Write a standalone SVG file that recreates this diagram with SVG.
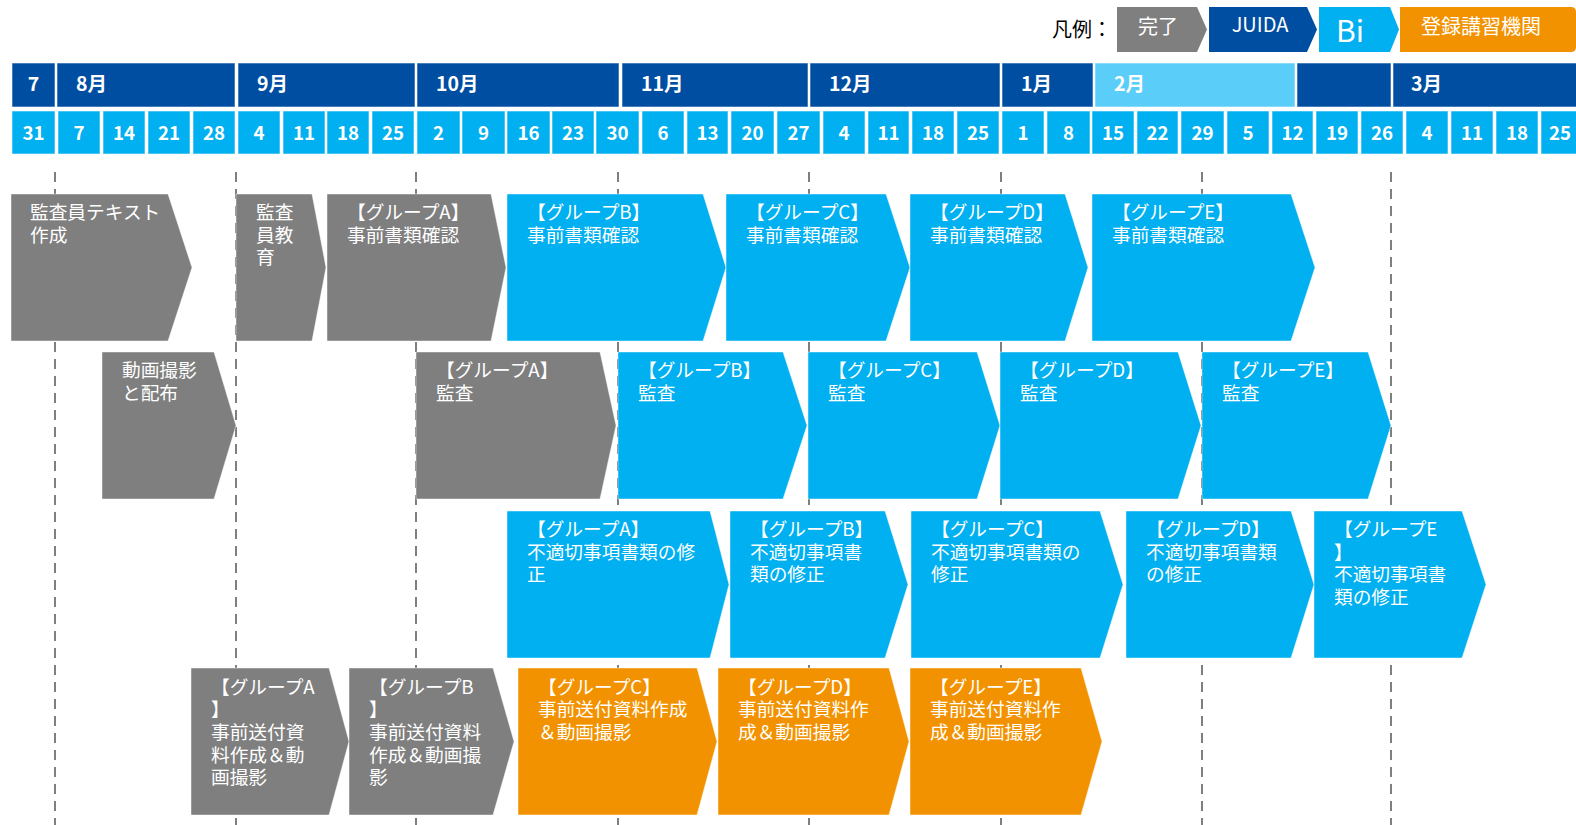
<svg xmlns="http://www.w3.org/2000/svg" width="1576" height="825" viewBox="0 0 1576 825">
<style>
.mo{fill:#004EA2;stroke:#fff;stroke-opacity:.55;stroke-width:1}
.mol{fill:#5BCDF9;stroke:#fff;stroke-opacity:.55;stroke-width:1}
.dy{fill:#00B0F0;stroke:#fff;stroke-opacity:.55;stroke-width:1}
.ht{font-family:"Noto Sans CJK JP","DejaVu Sans",sans-serif;font-weight:700;fill:#fff;font-size:19.5px}
.dt{font-family:"Noto Sans CJK JP","DejaVu Sans",sans-serif;font-weight:700;fill:#fff;font-size:18.7px;text-anchor:middle}
.g{fill:#7F7F7F;stroke:#fff;stroke-opacity:.45;stroke-width:1}
.b{fill:#00B0F0;stroke:#fff;stroke-opacity:.45;stroke-width:1}
.o{fill:#F39200;stroke:#fff;stroke-opacity:.45;stroke-width:1}
.t{font-family:"Noto Sans CJK JP","Noto Sans",sans-serif;fill:#fff;font-size:18.7px}
.lt{font-family:"Noto Sans CJK JP","Noto Sans",sans-serif;fill:#fff;font-size:20px;text-anchor:middle}
.guide{stroke:#7F7F7F;stroke-width:2;stroke-dasharray:10 7;fill:none}
</style>
<rect width="1576" height="825" fill="#fff"/>

<g id="legend">
<text x="1052" y="37" font-family="'Noto Sans CJK JP',sans-serif" font-size="20" fill="#000">凡例：</text>
<polygon points="1117,7 1197,7 1207,29.5 1197,52 1117,52" fill="#7F7F7F"/>
<text class="lt" x="1158" y="34">完了</text>
<polygon points="1209,7 1307,7 1317,29.5 1307,52 1209,52" fill="#004EA2"/>
<text class="lt" x="1260" y="32">JUIDA</text>
<polygon points="1319,7 1390,7 1399,29.5 1390,52 1319,52" fill="#00B0F0"/>
<text class="lt" x="1350" y="42" style="font-size:30px">Bi</text>
<path d="M1400,7 H1571 Q1576,7 1576,12 V47 Q1576,52 1571,52 H1400 Z" fill="#F39200"/>
<text class="lt" x="1481" y="34">登録講習機関</text>
</g>

<g id="header">
<rect class="mo" x="12" y="63" width="43" height="44"/>
<rect class="mo" x="57" y="63" width="178" height="44"/>
<rect class="mo" x="238" y="63" width="177" height="44"/>
<rect class="mo" x="417" y="63" width="202" height="44"/>
<rect class="mo" x="622" y="63" width="186" height="44"/>
<rect class="mo" x="810" y="63" width="190" height="44"/>
<rect class="mo" x="1002" y="63" width="91" height="44"/>
<rect class="mol" x="1095" y="63" width="200" height="44"/>
<rect class="mo" x="1297" y="63" width="94" height="44"/>
<rect class="mo" x="1393" y="63" width="190" height="44"/>
<text class="ht" x="33.5" y="91" text-anchor="middle">7</text>
<text class="ht" x="76" y="91">8月</text>
<text class="ht" x="257" y="91">9月</text>
<text class="ht" x="436" y="91">10月</text>
<text class="ht" x="641" y="91">11月</text>
<text class="ht" x="829" y="91">12月</text>
<text class="ht" x="1021" y="91">1月</text>
<text class="ht" x="1114" y="91">2月</text>
<text class="ht" x="1411" y="91">3月</text>

<rect class="dy" x="12" y="111" width="43" height="43"/>
<rect class="dy" x="58" y="111" width="42" height="43"/>
<rect class="dy" x="103" y="111" width="42" height="43"/>
<rect class="dy" x="148" y="111" width="42" height="43"/>
<rect class="dy" x="193" y="111" width="42" height="43"/>
<rect class="dy" x="238" y="111" width="42" height="43"/>
<rect class="dy" x="283" y="111" width="42" height="43"/>
<rect class="dy" x="327" y="111" width="42" height="43"/>
<rect class="dy" x="372" y="111" width="42" height="43"/>
<rect class="dy" x="417" y="111" width="43" height="43"/>
<rect class="dy" x="462" y="111" width="43" height="43"/>
<rect class="dy" x="507" y="111" width="43" height="43"/>
<rect class="dy" x="552" y="111" width="42" height="43"/>
<rect class="dy" x="596" y="111" width="43" height="43"/>
<rect class="dy" x="642" y="111" width="42" height="43"/>
<rect class="dy" x="687" y="111" width="41" height="43"/>
<rect class="dy" x="731" y="111" width="43" height="43"/>
<rect class="dy" x="777" y="111" width="43" height="43"/>
<rect class="dy" x="823" y="111" width="42" height="43"/>
<rect class="dy" x="868" y="111" width="41" height="43"/>
<rect class="dy" x="912" y="111" width="42" height="43"/>
<rect class="dy" x="957" y="111" width="42" height="43"/>
<rect class="dy" x="1002" y="111" width="42" height="43"/>
<rect class="dy" x="1047" y="111" width="43" height="43"/>
<rect class="dy" x="1092" y="111" width="42" height="43"/>
<rect class="dy" x="1137" y="111" width="41" height="43"/>
<rect class="dy" x="1181" y="111" width="43" height="43"/>
<rect class="dy" x="1227" y="111" width="42" height="43"/>
<rect class="dy" x="1272" y="111" width="41" height="43"/>
<rect class="dy" x="1316" y="111" width="42" height="43"/>
<rect class="dy" x="1361" y="111" width="42" height="43"/>
<rect class="dy" x="1406" y="111" width="42" height="43"/>
<rect class="dy" x="1451" y="111" width="42" height="43"/>
<rect class="dy" x="1496" y="111" width="42" height="43"/>
<rect class="dy" x="1541" y="111" width="42" height="43"/>
<text class="dt" x="33.5" y="140">31</text>
<text class="dt" x="79" y="140">7</text>
<text class="dt" x="124" y="140">14</text>
<text class="dt" x="169" y="140">21</text>
<text class="dt" x="214" y="140">28</text>
<text class="dt" x="259" y="140">4</text>
<text class="dt" x="304" y="140">11</text>
<text class="dt" x="348" y="140">18</text>
<text class="dt" x="393" y="140">25</text>
<text class="dt" x="438.5" y="140">2</text>
<text class="dt" x="483.5" y="140">9</text>
<text class="dt" x="528.5" y="140">16</text>
<text class="dt" x="573" y="140">23</text>
<text class="dt" x="617.5" y="140">30</text>
<text class="dt" x="663" y="140">6</text>
<text class="dt" x="707.5" y="140">13</text>
<text class="dt" x="752.5" y="140">20</text>
<text class="dt" x="798.5" y="140">27</text>
<text class="dt" x="844" y="140">4</text>
<text class="dt" x="888.5" y="140">11</text>
<text class="dt" x="933" y="140">18</text>
<text class="dt" x="978" y="140">25</text>
<text class="dt" x="1023" y="140">1</text>
<text class="dt" x="1068.5" y="140">8</text>
<text class="dt" x="1113" y="140">15</text>
<text class="dt" x="1157.5" y="140">22</text>
<text class="dt" x="1202.5" y="140">29</text>
<text class="dt" x="1248" y="140">5</text>
<text class="dt" x="1292.5" y="140">12</text>
<text class="dt" x="1337" y="140">19</text>
<text class="dt" x="1382" y="140">26</text>
<text class="dt" x="1427" y="140">4</text>
<text class="dt" x="1472" y="140">11</text>
<text class="dt" x="1517" y="140">18</text>
<text class="dt" x="1560" y="140">25</text>
</g>

<g id="connectors">
<line class="guide" x1="55" y1="172" x2="55" y2="825"/>
<line class="guide" x1="236" y1="172" x2="236" y2="825"/>
<line class="guide" x1="416" y1="172" x2="416" y2="825"/>
<line class="guide" x1="618" y1="172" x2="618" y2="825"/>
<line class="guide" x1="809" y1="172" x2="809" y2="825"/>
<line class="guide" x1="1001" y1="172" x2="1001" y2="825"/>
<line class="guide" x1="1202" y1="172" x2="1202" y2="825"/>
<line class="guide" x1="1391" y1="172" x2="1391" y2="825"/>
</g>

<g id="r1-text-create">
<polygon class="g" points="11,194 168,194 192,267.5 168,341 11,341"/>
<text class="t" x="30" y="219"><tspan x="30">監査員テキスト</tspan><tspan x="30" dy="22.7">作成</tspan></text>
</g>
<g id="r1-auditor-edu">
<polygon class="g" points="236,194 312,194 326,267.5 312,341 236,341"/>
<text class="t" x="256" y="219"><tspan x="256">監査</tspan><tspan x="256" dy="22.7">員教</tspan><tspan x="256" dy="22.7">育</tspan></text>
</g>
<g id="r1-A">
<polygon class="g" points="327,194 491,194 506,267.5 491,341 327,341"/>
<text class="t" x="347" y="219"><tspan x="347">【グループA】</tspan><tspan x="347" dy="22.7">事前書類確認</tspan></text>
</g>
<g id="r1-B">
<polygon class="b" points="507,194 703,194 726,267.5 703,341 507,341"/>
<text class="t" x="527" y="219"><tspan x="527">【グループB】</tspan><tspan x="527" dy="22.7">事前書類確認</tspan></text>
</g>
<g id="r1-C">
<polygon class="b" points="726,194 886,194 910,267.5 886,341 726,341"/>
<text class="t" x="746" y="219"><tspan x="746">【グループC】</tspan><tspan x="746" dy="22.7">事前書類確認</tspan></text>
</g>
<g id="r1-D">
<polygon class="b" points="910,194 1065,194 1088,267.5 1065,341 910,341"/>
<text class="t" x="930" y="219"><tspan x="930">【グループD】</tspan><tspan x="930" dy="22.7">事前書類確認</tspan></text>
</g>
<g id="r1-E">
<polygon class="b" points="1092,194 1291,194 1315,267.5 1291,341 1092,341"/>
<text class="t" x="1112" y="219"><tspan x="1112">【グループE】</tspan><tspan x="1112" dy="22.7">事前書類確認</tspan></text>
</g>

<g id="r2-video">
<polygon class="g" points="102,352 214,352 236,425.5 214,499 102,499"/>
<text class="t" x="122" y="377"><tspan x="122">動画撮影</tspan><tspan x="122" dy="22.7">と配布</tspan></text>
</g>
<g id="r2-A">
<polygon class="g" points="416,352 600,352 616,425.5 600,499 416,499"/>
<text class="t" x="436" y="377"><tspan x="436">【グループA】</tspan><tspan x="436" dy="22.7">監査</tspan></text>
</g>
<g id="r2-B">
<polygon class="b" points="618,352 783,352 807,425.5 783,499 618,499"/>
<text class="t" x="638" y="377"><tspan x="638">【グループB】</tspan><tspan x="638" dy="22.7">監査</tspan></text>
</g>
<g id="r2-C">
<polygon class="b" points="808,352 977,352 1000,425.5 977,499 808,499"/>
<text class="t" x="828" y="377"><tspan x="828">【グループC】</tspan><tspan x="828" dy="22.7">監査</tspan></text>
</g>
<g id="r2-D">
<polygon class="b" points="1000,352 1178,352 1201,425.5 1178,499 1000,499"/>
<text class="t" x="1020" y="377"><tspan x="1020">【グループD】</tspan><tspan x="1020" dy="22.7">監査</tspan></text>
</g>
<g id="r2-E">
<polygon class="b" points="1202,352 1368,352 1391,425.5 1368,499 1202,499"/>
<text class="t" x="1222" y="377"><tspan x="1222">【グループE】</tspan><tspan x="1222" dy="22.7">監査</tspan></text>
</g>

<g id="r3-A">
<polygon class="b" points="507,511 710,511 729,584.5 710,658 507,658"/>
<text class="t" x="527" y="536"><tspan x="527">【グループA】</tspan><tspan x="527" dy="22.7">不適切事項書類の修</tspan><tspan x="527" dy="22.7">正</tspan></text>
</g>
<g id="r3-B">
<polygon class="b" points="730,511 885,511 908,584.5 885,658 730,658"/>
<text class="t" x="750" y="536"><tspan x="750">【グループB】</tspan><tspan x="750" dy="22.7">不適切事項書</tspan><tspan x="750" dy="22.7">類の修正</tspan></text>
</g>
<g id="r3-C">
<polygon class="b" points="911,511 1100,511 1123,584.5 1100,658 911,658"/>
<text class="t" x="931" y="536"><tspan x="931">【グループC】</tspan><tspan x="931" dy="22.7">不適切事項書類の</tspan><tspan x="931" dy="22.7">修正</tspan></text>
</g>
<g id="r3-D">
<polygon class="b" points="1126,511 1291,511 1314,584.5 1291,658 1126,658"/>
<text class="t" x="1146" y="536"><tspan x="1146">【グループD】</tspan><tspan x="1146" dy="22.7">不適切事項書類</tspan><tspan x="1146" dy="22.7">の修正</tspan></text>
</g>
<g id="r3-E">
<polygon class="b" points="1314,511 1462,511 1486,584.5 1462,658 1314,658"/>
<text class="t" x="1334" y="536"><tspan x="1334">【グループE</tspan><tspan x="1334" dy="22.7">】</tspan><tspan x="1334" dy="22.7">不適切事項書</tspan><tspan x="1334" dy="22.7">類の修正</tspan></text>
</g>

<g id="r4-A">
<polygon class="g" points="191,668 329,668 349,741.5 329,815 191,815"/>
<text class="t" x="211" y="693.5"><tspan x="211">【グループA</tspan><tspan x="211" dy="22.7">】</tspan><tspan x="211" dy="22.7">事前送付資</tspan><tspan x="211" dy="22.7">料作成＆動</tspan><tspan x="211" dy="22.7">画撮影</tspan></text>
</g>
<g id="r4-B">
<polygon class="g" points="349,668 493,668 514,741.5 493,815 349,815"/>
<text class="t" x="369" y="693.5"><tspan x="369">【グループB</tspan><tspan x="369" dy="22.7">】</tspan><tspan x="369" dy="22.7">事前送付資料</tspan><tspan x="369" dy="22.7">作成＆動画撮</tspan><tspan x="369" dy="22.7">影</tspan></text>
</g>
<g id="r4-C">
<polygon class="o" points="518,668 697,668 717,741.5 697,815 518,815"/>
<text class="t" x="538" y="693.5"><tspan x="538">【グループC】</tspan><tspan x="538" dy="22.7">事前送付資料作成</tspan><tspan x="538" dy="22.7">＆動画撮影</tspan></text>
</g>
<g id="r4-D">
<polygon class="o" points="718,668 889,668 909,741.5 889,815 718,815"/>
<text class="t" x="738" y="693.5"><tspan x="738">【グループD】</tspan><tspan x="738" dy="22.7">事前送付資料作</tspan><tspan x="738" dy="22.7">成＆動画撮影</tspan></text>
</g>
<g id="r4-E">
<polygon class="o" points="910,668 1081,668 1102,741.5 1081,815 910,815"/>
<text class="t" x="930" y="693.5"><tspan x="930">【グループE】</tspan><tspan x="930" dy="22.7">事前送付資料作</tspan><tspan x="930" dy="22.7">成＆動画撮影</tspan></text>
</g>
</svg>
